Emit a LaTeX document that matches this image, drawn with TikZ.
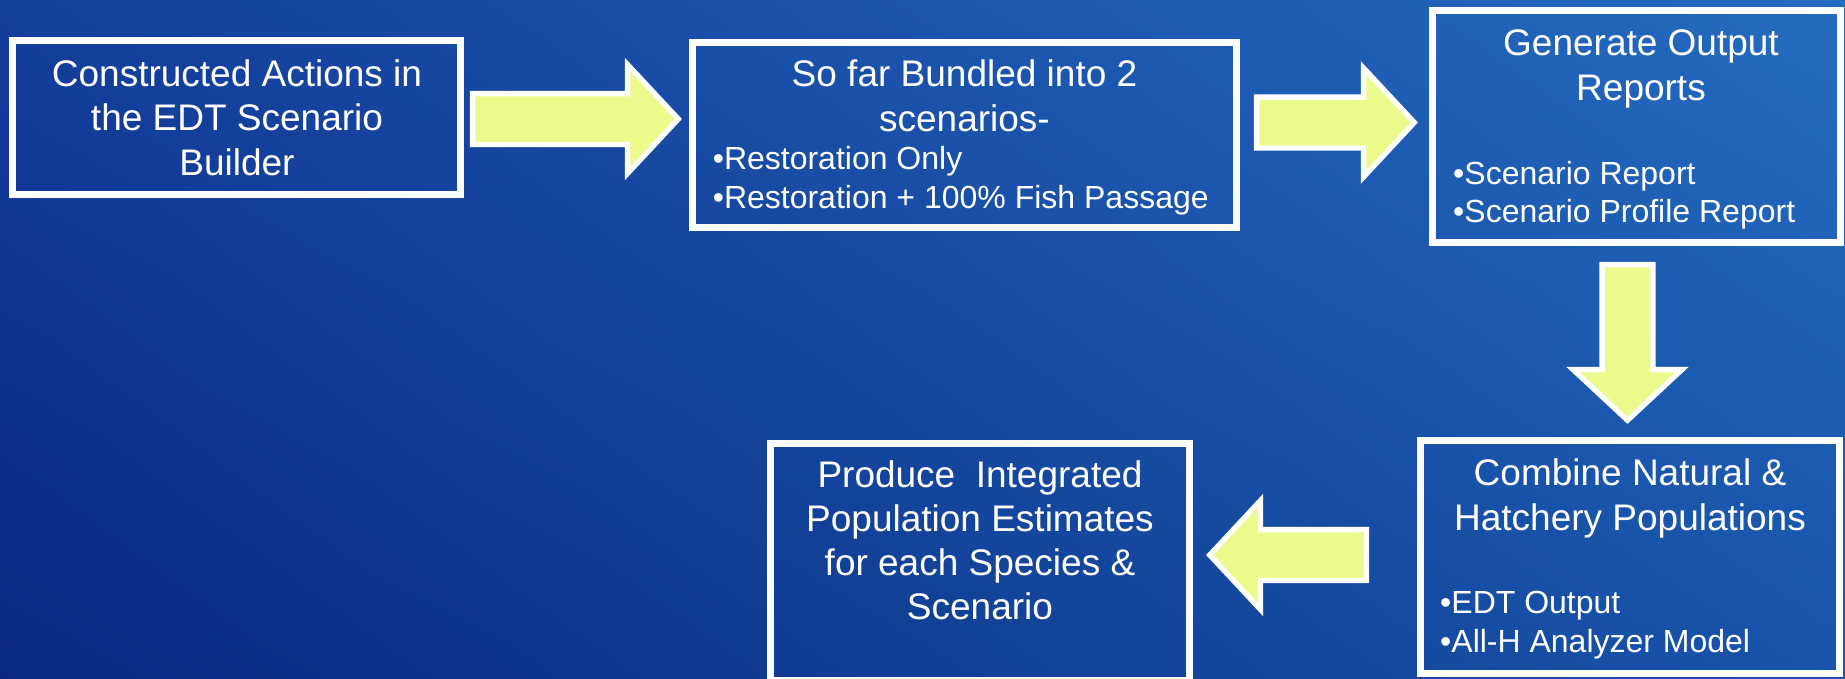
\documentclass[tikz,border=0pt]{standalone}
\usepackage{fontspec}
\setmainfont{Liberation Sans}
\usetikzlibrary{shadings}
\definecolor{arrowfill}{RGB}{236,250,140}
\definecolor{bgLL}{RGB}{10,40,128}
\definecolor{bgUL}{RGB}{20,62,156}
\definecolor{bgLR}{RGB}{24,84,170}
\definecolor{bgUR}{RGB}{36,108,192}
\newcommand{\blockarrow}[3]{%
  \draw[barrow, shift={#1}, rotate=#2]
    (0,-25.4) -- ({#3-50.7},-25.4) -- ({#3-50.7},-54.4) -- (#3,0)
    -- ({#3-50.7},54.4) -- ({#3-50.7},25.4) -- (0,25.4) -- cycle;}
\begin{document}
\begin{tikzpicture}[x=1pt,y=-1pt,
  box/.style={draw=white, line width=7pt, inner sep=0pt},
  barrow/.style={draw=white, fill=arrowfill, line width=5.3pt, line join=miter},
  ttl/.style={text=white, inner sep=0pt, anchor=base, font=\fontsize{37pt}{44pt}\selectfont},
  bul/.style={text=white, inner sep=0pt, anchor=base west, font=\fontsize{32pt}{38pt}\selectfont}]
\useasboundingbox (0,0) rectangle (1845,678);
\shade[upper left=bgUL, upper right=bgUR, lower left=bgLL, lower right=bgLR] (0,0) rectangle (1845,678);

% boxes
\node[box, minimum width=448pt, minimum height=154pt] (b1) at (236.5,117.5) {};
\node[box, minimum width=544pt, minimum height=185pt] (b2) at (964.5,135) {};
\node[box, minimum width=408pt, minimum height=232pt] (b3) at (1636.5,126.5) {};
\node[box, minimum width=419pt, minimum height=233pt] (b4) at (1630,557) {};
\node[box, minimum width=419pt, minimum height=237pt] (b5) at (980,562) {};

% box 1 text
\node[ttl] (t1a) at (237,86) {Constructed Actions in};
\node[ttl] (t1b) at (237,130) {the EDT Scenario};
\node[ttl] (t1c) at (237,175) {Builder};

% box 2 text
\node[ttl] (t2a) at (964.5,86) {So far Bundled into 2};
\node[ttl] (t2b) at (964.5,131) {scenarios-};
\node[bul] (t2c) at (712.6,169) {•Restoration Only};
\node[bul] (t2d) at (712.6,208) {•Restoration + 100\% Fish Passage};

% box 3 text
\node[ttl] (t3a) at (1641,55) {Generate Output};
\node[ttl] (t3b) at (1641,100) {Reports};
\node[bul] (t3c) at (1453,184) {•Scenario Report};
\node[bul] (t3d) at (1453,222) {•Scenario Profile Report};

% box 4 text
\node[ttl] (t4a) at (1630,485) {Combine Natural \&};
\node[ttl] (t4b) at (1630,530) {Hatchery Populations};
\node[bul] (t4c) at (1440,613) {•EDT Output};
\node[bul] (t4d) at (1440,652) {•All-H Analyzer Model};

% box 5 text
\node[ttl] (t5a) at (980,487) {Produce\ \ Integrated};
\node[ttl] (t5b) at (980,531) {Population Estimates};
\node[ttl] (t5c) at (980,575) {for each Species \&};
\node[ttl] (t5d) at (980,619) {Scenario};

% block arrows
\coordinate (a1) at (472.6,119);
\coordinate (a2) at (1256.6,122.5);
\coordinate (a3) at (1627.5,264.6);
\coordinate (a4) at (1366.4,555);
\blockarrow{(a1)}{0}{205.7}
\blockarrow{(a2)}{0}{157.7}
\blockarrow{(a3)}{-90}{155.7}
\blockarrow{(a4)}{180}{156.7}
\end{tikzpicture}
\end{document}
